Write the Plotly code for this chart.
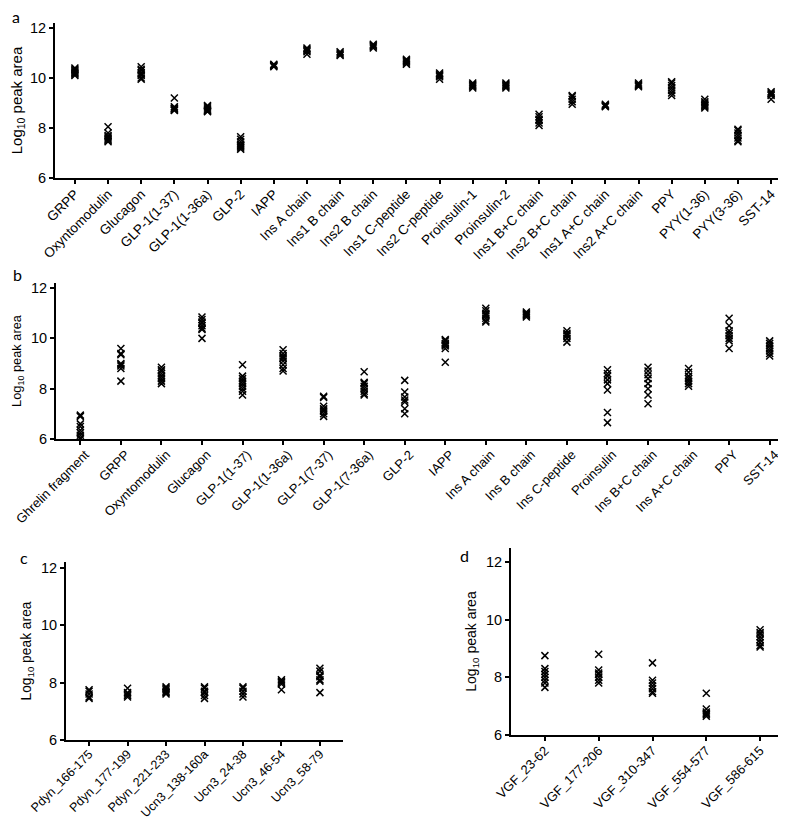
import plotly.graph_objects as go

W, H = 786, 821

# ---------------- data ----------------
cats_a = ["GRPP", "Oxyntomodulin", "Glucagon", "GLP-1(1-37)", "GLP-1(1-36a)", "GLP-2", "IAPP",
          "Ins A chain", "Ins1 B chain", "Ins2 B chain", "Ins1 C-peptide", "Ins2 C-peptide",
          "Proinsulin-1", "Proinsulin-2", "Ins1 B+C chain", "Ins2 B+C chain", "Ins1 A+C chain",
          "Ins2 A+C chain", "PPY", "PYY(1-36)", "PYY(3-36)", "SST-14"]
vals_a = [
    [10.1, 10.15, 10.2, 10.25, 10.3, 10.35, 10.4, 10.2],
    [8.05, 7.8, 7.7, 7.65, 7.6, 7.55, 7.5, 7.45],
    [10.45, 10.35, 10.3, 10.2, 10.15, 10.1, 10.0, 9.95],
    [9.2, 8.85, 8.8, 8.78, 8.75, 8.72, 8.7],
    [8.9, 8.85, 8.8, 8.75, 8.7, 8.68, 8.65],
    [7.65, 7.55, 7.45, 7.35, 7.3, 7.25, 7.2, 7.15],
    [10.55, 10.5, 10.48, 10.45, 10.52],
    [11.2, 11.15, 11.1, 11.05, 10.95],
    [11.05, 11.0, 10.95, 10.9],
    [11.35, 11.3, 11.25, 11.2],
    [10.75, 10.7, 10.65, 10.6, 10.55],
    [10.2, 10.15, 10.1, 10.05, 9.95],
    [9.8, 9.75, 9.7, 9.65, 9.6],
    [9.8, 9.75, 9.7, 9.65, 9.6],
    [8.55, 8.45, 8.35, 8.3, 8.2, 8.1],
    [9.3, 9.25, 9.15, 9.05, 8.95],
    [8.95, 8.9, 8.88, 8.85],
    [9.8, 9.75, 9.7, 9.65],
    [9.85, 9.8, 9.7, 9.6, 9.5, 9.4, 9.3],
    [9.15, 9.05, 9.0, 8.95, 8.9, 8.85, 8.8],
    [7.95, 7.9, 7.8, 7.7, 7.6, 7.5, 7.45],
    [9.45, 9.4, 9.35, 9.3, 9.15],
]

cats_b = ["Ghrelin fragment", "GRPP", "Oxyntomodulin", "Glucagon", "GLP-1(1-37)", "GLP-1(1-36a)",
          "GLP-1(7-37)", "GLP-1(7-36a)", "GLP-2", "IAPP", "Ins A chain", "Ins B chain",
          "Ins C-peptide", "Proinsulin", "Ins B+C chain", "Ins A+C chain", "PPY", "SST-14"]
vals_b = [
    [6.95, 6.9, 6.6, 6.5, 6.35, 6.25, 6.15, 6.05, 6.0],
    [9.6, 9.4, 9.35, 9.0, 8.95, 8.9, 8.8, 8.3],
    [8.85, 8.75, 8.7, 8.6, 8.5, 8.4, 8.3, 8.2],
    [10.85, 10.75, 10.65, 10.6, 10.5, 10.4, 10.35, 10.0],
    [8.95, 8.5, 8.4, 8.3, 8.2, 8.1, 8.0, 7.9, 7.75],
    [9.55, 9.4, 9.3, 9.25, 9.2, 9.1, 8.95, 8.8, 8.7],
    [7.7, 7.65, 7.3, 7.2, 7.15, 7.1, 7.0, 6.9],
    [8.67, 8.25, 8.2, 8.1, 8.0, 7.9, 7.8, 7.75],
    [8.33, 7.87, 7.67, 7.55, 7.47, 7.2, 7.0],
    [9.95, 9.9, 9.8, 9.75, 9.7, 9.6, 9.05],
    [11.2, 11.1, 11.0, 10.95, 10.9, 10.8, 10.7, 10.65],
    [11.05, 11.0, 10.95, 10.9, 10.85],
    [10.3, 10.2, 10.15, 10.1, 10.0, 9.85],
    [8.75, 8.6, 8.5, 8.35, 8.2, 7.95, 7.05, 6.65],
    [8.85, 8.7, 8.55, 8.4, 8.2, 8.0, 7.75, 7.4],
    [8.8, 8.65, 8.5, 8.4, 8.3, 8.2, 8.1],
    [10.8, 10.5, 10.3, 10.2, 10.1, 10.0, 9.9, 9.6],
    [9.9, 9.8, 9.7, 9.6, 9.5, 9.4, 9.3],
]

cats_c = ["Pdyn_166-175", "Pdyn_177-199", "Pdyn_221-233", "Ucn3_138-160a", "Ucn3_24-38",
          "Ucn3_46-54", "Ucn3_58-79"]
vals_c = [
    [7.75, 7.7, 7.6, 7.5, 7.45],
    [7.8, 7.65, 7.6, 7.55, 7.5],
    [7.85, 7.8, 7.75, 7.7, 7.65, 7.6],
    [7.85, 7.8, 7.7, 7.65, 7.55, 7.45],
    [7.85, 7.8, 7.7, 7.6, 7.5],
    [8.1, 8.05, 8.0, 7.95, 7.75],
    [8.5, 8.4, 8.25, 8.2, 8.1, 8.05, 7.65],
]

cats_d = ["VGF_23-62", "VGF_177-206", "VGF_310-347", "VGF_554-577", "VGF_586-615"]
vals_d = [
    [8.75, 8.3, 8.2, 8.1, 8.0, 7.9, 7.8, 7.65],
    [8.8, 8.25, 8.15, 8.1, 8.0, 7.9, 7.8],
    [8.5, 7.9, 7.8, 7.7, 7.6, 7.5, 7.45],
    [7.45, 6.9, 6.8, 6.75, 6.7, 6.65],
    [9.65, 9.55, 9.5, 9.4, 9.3, 9.2, 9.1, 9.05],
]

y_ticks = [6, 8, 10, 12]
y_title = "Log<sub>10</sub> peak area"

# ---------------- layout helpers ----------------
def px_dom_x(x0, x1):
    return [x0 / W, x1 / W]

def px_dom_y(top, bottom):
    return [1 - bottom / H, 1 - top / H]

panels = [
    dict(cats=cats_a, vals=vals_a, xd=(47, 783), yd=(15, 170), ytop=12.2, pad=0.6,
         fx=13.5, fy=14.5, ft=15, shift=0, so=-3),
    dict(cats=cats_b, vals=vals_b, xd=(48, 786), yd=(275, 431), ytop=12.2, pad=0.6,
         fx=13, fy=14.5, ft=12.8, shift=5, so=-3),
    dict(cats=cats_c, vals=vals_c, xd=(58, 335), yd=(554, 732), ytop=12.2, pad=0.6,
         fx=12.5, fy=14.5, ft=13.8, shift=0, so=-4),
    dict(cats=cats_d, vals=vals_d, xd=(503, 786), yd=(540, 727), ytop=12.48, pad=0.63,
         fx=13, fy=14.5, ft=14, shift=0, so=-3),
]

FONT = "Arial, Liberation Sans, sans-serif"

fig = go.Figure()
layout = {}
for i, p in enumerate(panels, start=1):
    xs, ys = [], []
    for c, v in zip(p["cats"], p["vals"]):
        xs += [c] * len(v)
        ys += v
    xa = "x" if i == 1 else f"x{i}"
    ya = "y" if i == 1 else f"y{i}"
    fig.add_trace(go.Scatter(
        x=xs, y=ys, mode="markers", xaxis=xa, yaxis=ya, showlegend=False,
        marker=dict(symbol="x-thin-open", size=7, color="black",
                    line=dict(color="black", width=1.5)),
    ))
    n = len(p["cats"])
    key_x = "xaxis" if i == 1 else f"xaxis{i}"
    key_y = "yaxis" if i == 1 else f"yaxis{i}"
    layout[key_x] = dict(
        domain=px_dom_x(*p["xd"]), anchor=ya, type="category",
        categoryorder="array", categoryarray=p["cats"],
        range=[-p["pad"], n - 1 + p["pad"]],
        showline=True, linecolor="black", linewidth=2, mirror=False,
        ticks="outside", ticklen=4, tickwidth=1.5, tickcolor="black",
        tickangle=-45, ticklabelstandoff=p["so"], ticklabelshift=p["shift"],
        showgrid=False, zeroline=False, automargin=False,
        tickfont=dict(family=FONT, size=p["fx"], color="black"),
        fixedrange=True,
    )
    layout[key_y] = dict(
        domain=px_dom_y(*p["yd"]), anchor=xa,
        range=[6, p["ytop"]], tickvals=y_ticks, ticktext=[str(t) for t in y_ticks],
        showline=True, linecolor="black", linewidth=2,
        ticks="outside", ticklen=4, tickwidth=1.5, tickcolor="black",
        showgrid=False, zeroline=False, automargin=False,
        tickfont=dict(family=FONT, size=p["fy"], color="black"),
        title=dict(text=y_title, standoff=6,
                   font=dict(family=FONT, size=p["ft"], color="black")),
        fixedrange=True,
    )

panel_labels = [("a", 2, 8), ("b", 3, 266), ("c", 10, 549), ("d", 450, 547)]
annotations = [
    dict(text=t, x=x / W, y=1 - y / H, xref="paper", yref="paper", xanchor="left", yanchor="middle",
         showarrow=False, font=dict(family="Lato, Open Sans", size=16, color="black"))
    for t, x, y in panel_labels
]

fig.update_layout(
    width=W, height=H, margin=dict(l=0, r=0, t=0, b=0),
    paper_bgcolor="white", plot_bgcolor="white",
    annotations=annotations, **layout,
)

fig.write_html("out.html")
